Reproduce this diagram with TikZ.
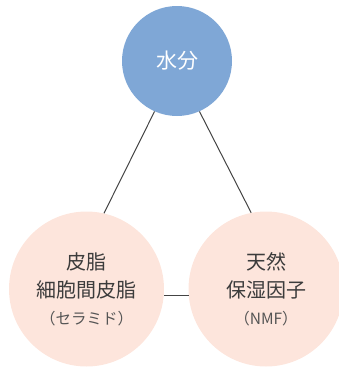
\documentclass[tikz,border=0pt]{standalone}
\usepackage{fontspec}
\setmainfont{Noto Sans CJK JP}
\definecolor{topblue}{HTML}{7FA7D6}
\definecolor{pinkfill}{HTML}{FDE5DC}
\definecolor{textgray}{HTML}{3C3C3C}
\definecolor{subgray}{HTML}{555555}
\definecolor{linegray}{HTML}{444444}
\tikzset{
  bubble/.style={circle, inner sep=0pt, align=center},
  topbubble/.style={bubble, fill=topblue, minimum size=110pt, text=white,
    font=\fontsize{21pt}{24pt}\selectfont},
  basebubble/.style={bubble, fill=pinkfill, minimum size=155pt, text=textgray,
    font=\fontsize{20pt}{28pt}\selectfont},
  link/.style={draw=linegray, line width=1pt}
}
\newcommand{\subline}[1]{{\fontsize{15.5pt}{28pt}\selectfont\color{subgray}#1}}
\begin{document}
\begin{tikzpicture}[x=1pt,y=-1pt]
\useasboundingbox (0,0) rectangle (338,367);
\node[topbubble] (water) at (177,61) {水分};
\node[basebubble] (lipid) at (86.5,289) {皮脂\\細胞間皮脂\\[-1pt]\subline{（セラミド）}};
\node[basebubble] (nmf) at (266,289) {天然\\保湿因子\\[-1pt]\subline{（NMF）}};
\draw[link] (water.246) -- (lipid.77);
\draw[link] (water.294) -- (nmf.101);
\draw[link] (lipid.-5) -- (nmf.185);
\end{tikzpicture}
\end{document}
